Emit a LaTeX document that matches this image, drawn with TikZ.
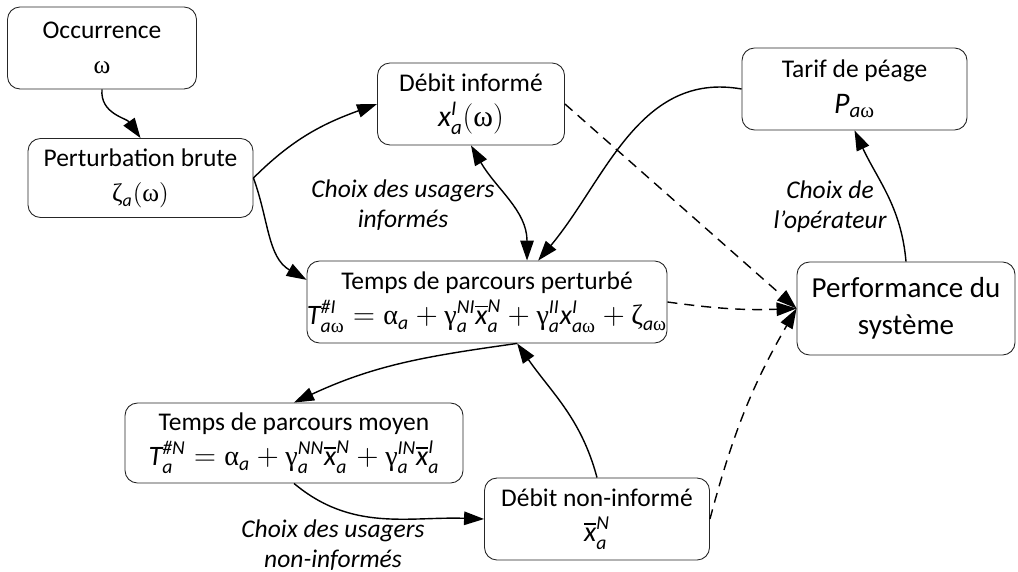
\documentclass[tikz,border=0pt]{standalone}
\usepackage{amsmath}
\usepackage{fontspec}
\setmainfont{Carlito}
\newfontfamily\grkfont{Liberation Serif}
\usetikzlibrary{arrows.meta}
\newcommand{\mitv}[1]{\text{\itshape #1}}
\newcommand{\mgrk}[1]{\text{\grkfont #1}}
\newcommand{\eqsize}{\fontsize{16}{20}\selectfont}

\begin{document}
\begin{tikzpicture}[font=\fontsize{14.5}{20}\selectfont,
  box/.style={draw=black!85,line width=0.5pt,rounded corners=0.25cm,align=center,inner sep=0pt},
  flow/.style={line width=0.8pt,-{Triangle[length=0.4cm,width=0.27cm]}},
  both/.style={line width=0.8pt,{Triangle[length=0.4cm,width=0.27cm]}-{Triangle[length=0.4cm,width=0.27cm]}},
  effect/.style={flow,dash pattern=on 0.2cm off 0.14cm},
  note/.style={font=\fontsize{14.5}{17}\selectfont\itshape,align=center}]
  \useasboundingbox (0,0) rectangle (20.36,-11.44);

  % boxes
  \node[box,minimum width=3.78cm,minimum height=1.64cm] (occ) at (2.04,-0.96)
       {Occurrence\\{\grkfont ω}};
  \node[box,minimum width=4.50cm,minimum height=1.58cm] (pert) at (2.81,-3.56)
       {Perturbation brute\\$\mgrk{ζ}_{\mitv{a}}(\mgrk{ω})$};
  \node[box,minimum width=3.74cm,minimum height=1.64cm] (dinf) at (9.42,-2.08)
       {Débit informé\\{\fontsize{17}{20}\selectfont$\mitv{x}^{\mitv{I}}_{\mitv{a}}(\mgrk{ω})$}};
  \node[box,minimum width=4.50cm,minimum height=1.64cm] (tarif) at (17.09,-1.78)
       {Tarif de péage\\{\fontsize{17}{20}\selectfont$\mitv{P}_{\mitv{a}\mgrk{ω}}$}};
  \node[box,minimum width=4.36cm,minimum height=1.86cm,
        font=\fontsize{16.5}{21}\selectfont] (perf) at (18.12,-6.17)
       {Performance du\\système};
  \node[box,minimum width=7.10cm,minimum height=1.64cm] (tpert) at (9.74,-6.04)
       {Temps de parcours perturbé\\{\eqsize$\mitv{T}^{\mitv{\#I}}_{\mitv{a}\mgrk{ω}}
        = \mgrk{α}_{\mitv{a}}
        + \mgrk{γ}^{\mitv{NI}}_{\mitv{a}}\overline{\mitv{x}}^{\mitv{N}}_{\mitv{a}}
        + \mgrk{γ}^{\mitv{II}}_{\mitv{a}}\mitv{x}^{\mitv{I}}_{\mitv{a}\mgrk{ω}}
        + \mgrk{ζ}_{\mitv{a}\mgrk{ω}}$}};
  \node[box,minimum width=6.76cm,minimum height=1.60cm] (tmoy) at (5.88,-8.86)
       {Temps de parcours moyen\\{\eqsize$\mitv{T}^{\mitv{\#N}}_{\mitv{a}}
        = \mgrk{α}_{\mitv{a}}
        + \mgrk{γ}^{\mitv{NN}}_{\mitv{a}}\overline{\mitv{x}}^{\mitv{N}}_{\mitv{a}}
        + \mgrk{γ}^{\mitv{IN}}_{\mitv{a}}\overline{\mitv{x}}^{\mitv{I}}_{\mitv{a}}$}};
  \node[box,minimum width=4.50cm,minimum height=1.64cm] (dninf) at (11.94,-10.38)
       {Débit non-informé\\{\eqsize$\overline{\mitv{x}}^{\mitv{N}}_{\mitv{a}}$}};

  % labels
  \node[note] (lblinf) at (8.06,-4.10) {Choix des usagers\\informés};
  \node[note] (lblop) at (16.60,-4.14) {Choix de\\l’opérateur};
  \node[note] (lblninf) at (6.66,-10.90) {Choix des usagers\\non-informés};

  % links
  \draw[flow] (occ.south) to[out=-95,in=125] (pert.north);
  \draw[flow] (pert.east) to[out=45,in=200] (dinf.west);
  \draw[flow] (pert.east) to[out=-70,in=150] (tpert.173);
  \draw[both] (dinf.south) to[out=-60,in=90] (tpert.46);
  \draw[flow] (tarif.west) to[out=170,in=50] (tpert.39);
  \draw[flow] (perf.north) to[out=95,in=-65] (tarif.south);
  \draw[flow] (tpert.-54) to[out=188,in=25] (tmoy.north);
  \draw[flow] (dninf.north) to[out=105,in=-55] (tpert.-54);
  \draw[flow] (tmoy.south) to[out=-40,in=178] (dninf.west);

  % dashed effects
  \draw[effect] (dinf.east) -- (perf.west);
  \draw[effect] (tpert.east) to[bend right=5] (perf.west);
  \draw[effect] (dninf.east) to[out=75,in=240] (perf.west);
\end{tikzpicture}
\end{document}
